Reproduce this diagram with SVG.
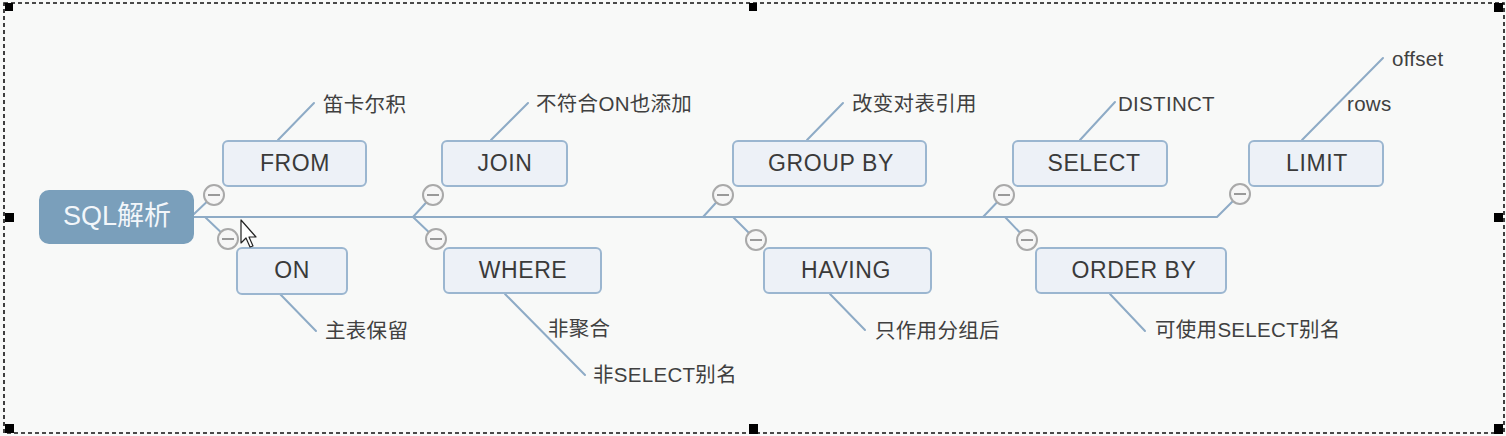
<svg xmlns="http://www.w3.org/2000/svg" width="1506" height="436" viewBox="0 0 1506 436">
<style>
.bg{fill:#f8f9f8}
.frame{fill:none;stroke:#111;stroke-width:1.6;stroke-dasharray:4 3}
.handle{fill:#000}
.conn{fill:none;stroke:#8eabc6;stroke-width:2;stroke-linecap:round;stroke-linejoin:round}
.box{fill:#edf1f7;stroke:#9bb6d0;stroke-width:2}
.root{fill:#7a9fbb;stroke:#7a9fbb;stroke-width:2}
.nt{font-family:"Liberation Sans","Noto Sans CJK SC",sans-serif;font-size:23px;fill:#3a3a3a;text-anchor:middle;dominant-baseline:central;letter-spacing:0.6px}
.rt{font-family:"Liberation Sans","Noto Sans CJK SC",sans-serif;font-size:27px;fill:#f2f6fa;text-anchor:middle;dominant-baseline:central}
.lb{font-family:"Liberation Sans","Noto Sans CJK SC",sans-serif;font-size:20.5px;fill:#404040;dominant-baseline:central;letter-spacing:0.3px}
.col{fill:#f6f6f6;stroke:#a9a9a9;stroke-width:2}
.minus{stroke:#999;stroke-width:2}
</style>
<defs>
<g id="collapse"><circle class="col" cx="0" cy="0" r="10"/><line class="minus" x1="-6" y1="0" x2="6" y2="0"/></g>
</defs>
<rect class="bg" x="0" y="0" width="1506" height="436"/>
<rect class="frame" x="4" y="3" width="1500" height="430"/>
<g id="handles">
<rect class="handle" x="5" y="3" width="8" height="8"/>
<rect class="handle" x="749" y="3" width="8" height="8"/>
<rect class="handle" x="1494" y="3" width="9" height="9"/>
<rect class="handle" x="5" y="213" width="9" height="9"/>
<rect class="handle" x="1494" y="213" width="9" height="9"/>
<rect class="handle" x="5" y="424" width="9" height="9"/>
<rect class="handle" x="749" y="424" width="9" height="10"/>
<rect class="handle" x="1494" y="424" width="9" height="10"/>
</g>
<g id="connectors">
<path class="conn" d="M194 217 H1217 L1240 194"/>
<path class="conn" d="M194 214 L214 195"/>
<path class="conn" d="M205 217 L228 239"/>
<path class="conn" d="M413 217 L433 195"/>
<path class="conn" d="M413 217 L436 239"/>
<path class="conn" d="M703 217 L723 195"/>
<path class="conn" d="M733 217 L756 240"/>
<path class="conn" d="M983 217 L1004 195"/>
<path class="conn" d="M1005 217 L1027 240"/>
<path class="conn" d="M278 140 L314 103"/>
<path class="conn" d="M280 294 L316 331"/>
<path class="conn" d="M491 140 L528 103"/>
<path class="conn" d="M505 294 L585 375"/>
<path class="conn" d="M807 140 L843 103"/>
<path class="conn" d="M830 294 L865 330"/>
<path class="conn" d="M1080 140 L1115 102"/>
<path class="conn" d="M1110 294 L1145 331"/>
<path class="conn" d="M1302 140 L1383 58"/>
</g>
<g id="root"><rect class="root" x="40" y="191" width="153" height="52" rx="9"/><text class="rt" x="117" y="216">SQL解析</text></g>
<g id="from"><rect class="box" x="223" y="141" width="143" height="45" rx="5"/><text class="nt" x="295" y="163">FROM</text><use href="#collapse" x="214" y="195"/></g>
<g id="on"><rect class="box" x="237" y="248" width="110" height="46" rx="5"/><text class="nt" x="292" y="270">ON</text><use href="#collapse" x="228" y="239"/></g>
<g id="join"><rect class="box" x="442" y="141" width="125" height="45" rx="5"/><text class="nt" x="505" y="163">JOIN</text><use href="#collapse" x="433" y="195"/></g>
<g id="where"><rect class="box" x="444" y="248" width="157" height="45" rx="5"/><text class="nt" x="523" y="270">WHERE</text><use href="#collapse" x="436" y="239"/></g>
<g id="groupby"><rect class="box" x="733" y="141" width="193" height="45" rx="5"/><text class="nt" x="831" y="163">GROUP BY</text><use href="#collapse" x="723" y="195"/></g>
<g id="having"><rect class="box" x="764" y="248" width="167" height="45" rx="5"/><text class="nt" x="846" y="270">HAVING</text><use href="#collapse" x="756" y="240"/></g>
<g id="select"><rect class="box" x="1013" y="141" width="154" height="45" rx="5"/><text class="nt" x="1094" y="163">SELECT</text><use href="#collapse" x="1004" y="195"/></g>
<g id="orderby"><rect class="box" x="1036" y="248" width="190" height="45" rx="5"/><text class="nt" x="1134" y="270">ORDER BY</text><use href="#collapse" x="1027" y="240"/></g>
<g id="limit"><rect class="box" x="1249" y="141" width="134" height="45" rx="5"/><text class="nt" x="1317" y="163">LIMIT</text><use href="#collapse" x="1240" y="194"/></g>
<g id="labels">
<text class="lb" x="323" y="104">笛卡尔积</text>
<text class="lb" x="325" y="330">主表保留</text>
<text class="lb" x="536" y="103">不符合ON也添加</text>
<text class="lb" x="548" y="328">非聚合</text>
<text class="lb" x="593" y="374">非SELECT别名</text>
<text class="lb" x="852" y="103">改变对表引用</text>
<text class="lb" x="875" y="330">只作用分组后</text>
<text class="lb" x="1118" y="103">DISTINCT</text>
<text class="lb" x="1155" y="329">可使用SELECT别名</text>
<text class="lb" x="1392" y="58">offset</text>
<text class="lb" x="1347" y="103">rows</text>
</g>
<g id="cursor"><path d="M241 220 L241 243 L246 238 L250 247 L253 246 L249 237 L256 237 Z" fill="#fff" stroke="#222" stroke-width="1.2" stroke-linejoin="round"/></g>
</svg>
